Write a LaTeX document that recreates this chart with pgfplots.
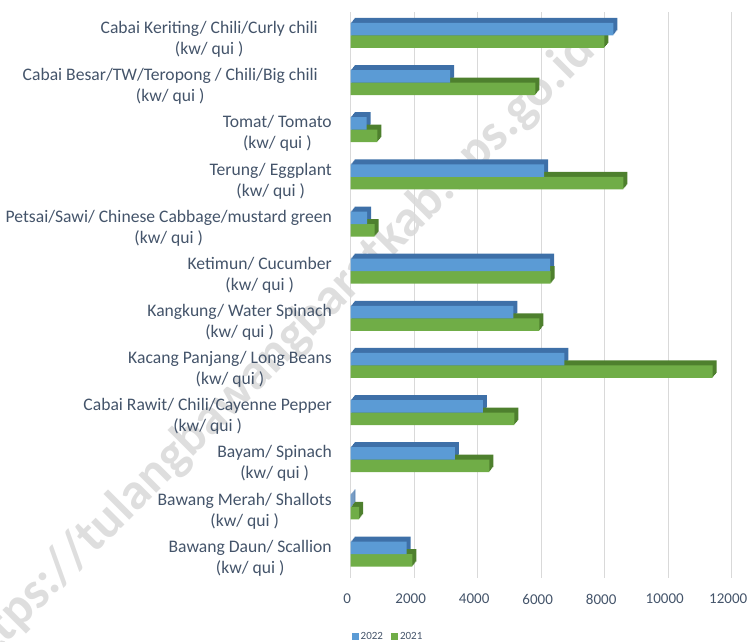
\documentclass[border=0pt]{standalone}
\usepackage{fontspec}
\setmainfont{Carlito}
\usepackage{pgfplots}
\usepackage{pgfplotstable}
\pgfplotsset{compat=1.18}
\definecolor{bfront}{RGB}{91,155,213}
\definecolor{bdepth}{RGB}{62,112,168}
\definecolor{gfront}{RGB}{112,173,71}
\definecolor{gdepth}{RGB}{78,128,46}
\definecolor{labtxt}{RGB}{68,84,106}
\definecolor{gridc}{RGB}{217,217,217}
\newcommand\lab[2]{\begin{tabular}{@{}c@{}}#1\\#2\end{tabular}}
\pgfplotstableread{
y a b
11 8270 7990
10 3130 5815
9 505 840
8 6090 8590
7 520 755
6 6280 6300
5 5120 5940
4 6730 11400
3 4160 5155
2 3285 4365
1 20 262
0 1765 1940
}\datatable
\begin{document}
\begin{tikzpicture}[x=1pt,y=1pt]
\path[use as bounding box] (0,0) rectangle (748,642);
\node[rotate=45, text=gray!26, font=\fontsize{52}{52}\selectfont\bfseries] at (276,288) {https://tulangbawangbaratkab.bps.go.id};
\begin{axis}[
  at={(350.7pt,64.4pt)}, anchor=south west,
  scale only axis, width=381pt, height=565.7pt,
  xbar, bar width=12.5pt,
  xmin=0, xmax=12000, ymin=-0.5, ymax=11.5,
  xtick={0,2000,...,12000},
  ytick={0,...,11},
  yticklabels={
    {\lab{Bawang Daun/ Scallion}{(kw/ qui )}},
    {\lab{Bawang Merah/ Shallots}{(kw/ qui )}},
    {\lab{Bayam/ Spinach}{(kw/ qui )}},
    {\lab{Cabai Rawit/ Chili/Cayenne Pepper}{(kw/ qui )}},
    {\lab{Kacang Panjang/ Long Beans}{(kw/ qui )}},
    {\lab{Kangkung/ Water Spinach}{(kw/ qui )}},
    {\lab{Ketimun/ Cucumber}{(kw/ qui )}},
    {\lab{Petsai/Sawi/ Chinese Cabbage/mustard green}{(kw/ qui )}},
    {\lab{Terung/ Eggplant}{(kw/ qui )}},
    {\lab{Tomat/ Tomato}{(kw/ qui )}},
    {\lab{Cabai Besar/TW/Teropong / Chili/Big chili}{(kw/ qui )}\hspace*{14pt}},
    {\lab{Cabai Keriting/ Chili/Curly chili}{(kw/ qui )}\hspace*{14pt}}
  },
  /pgf/number format/assume math mode=true,
  scaled x ticks=false,
  xticklabel={\pgfmathprintnumber[fixed,1000 sep={}]{\tick}},
  xticklabel style={font=\fontsize{15}{18}\selectfont, text=labtxt, yshift=-13pt, xshift=-3.5pt},
  yticklabel style={font=\fontsize{17.6}{21}\selectfont, text=labtxt, anchor=east, inner sep=0pt, xshift=-18.7pt, yshift=-4.5pt},
  major tick length=0pt,
  axis line style={draw=none},
  xmajorgrids, major grid style={gridc, line width=0.8pt},
  legend style={draw=none, font=\fontsize{11}{12}\selectfont, text=labtxt, legend columns=2,
    at={(0.098,-0.104)}, anchor=center, /tikz/every even column/.append style={column sep=6pt}},
  legend image code/.code={\fill[#1] (0pt,-3.5pt) rectangle (7pt,3.5pt);},
]
% depth (3D) faces
\pgfplotsinvokeforeach{1,2,3,4,5}{
  \addplot[forget plot, fill=bdepth, draw=none, bar shift=6.25pt, xshift=0.8*#1pt, yshift=#1pt] table[x=a,y=y]{\datatable};
  \addplot[forget plot, fill=gdepth, draw=none, bar shift=-6.25pt, xshift=0.8*#1pt, yshift=#1pt] table[x=b,y=y]{\datatable};
}
% front faces
\addplot[forget plot, fill=gfront, draw=none, bar shift=-6.25pt] table[x=b,y=y]{\datatable};
\addplot[fill=bfront, draw=none, bar shift=6.25pt] table[x=a,y=y]{\datatable};
\addlegendentry{2022}
\addlegendimage{fill=gfront, draw=none}
\addlegendentry{2021}
\end{axis}
\end{tikzpicture}
\end{document}
